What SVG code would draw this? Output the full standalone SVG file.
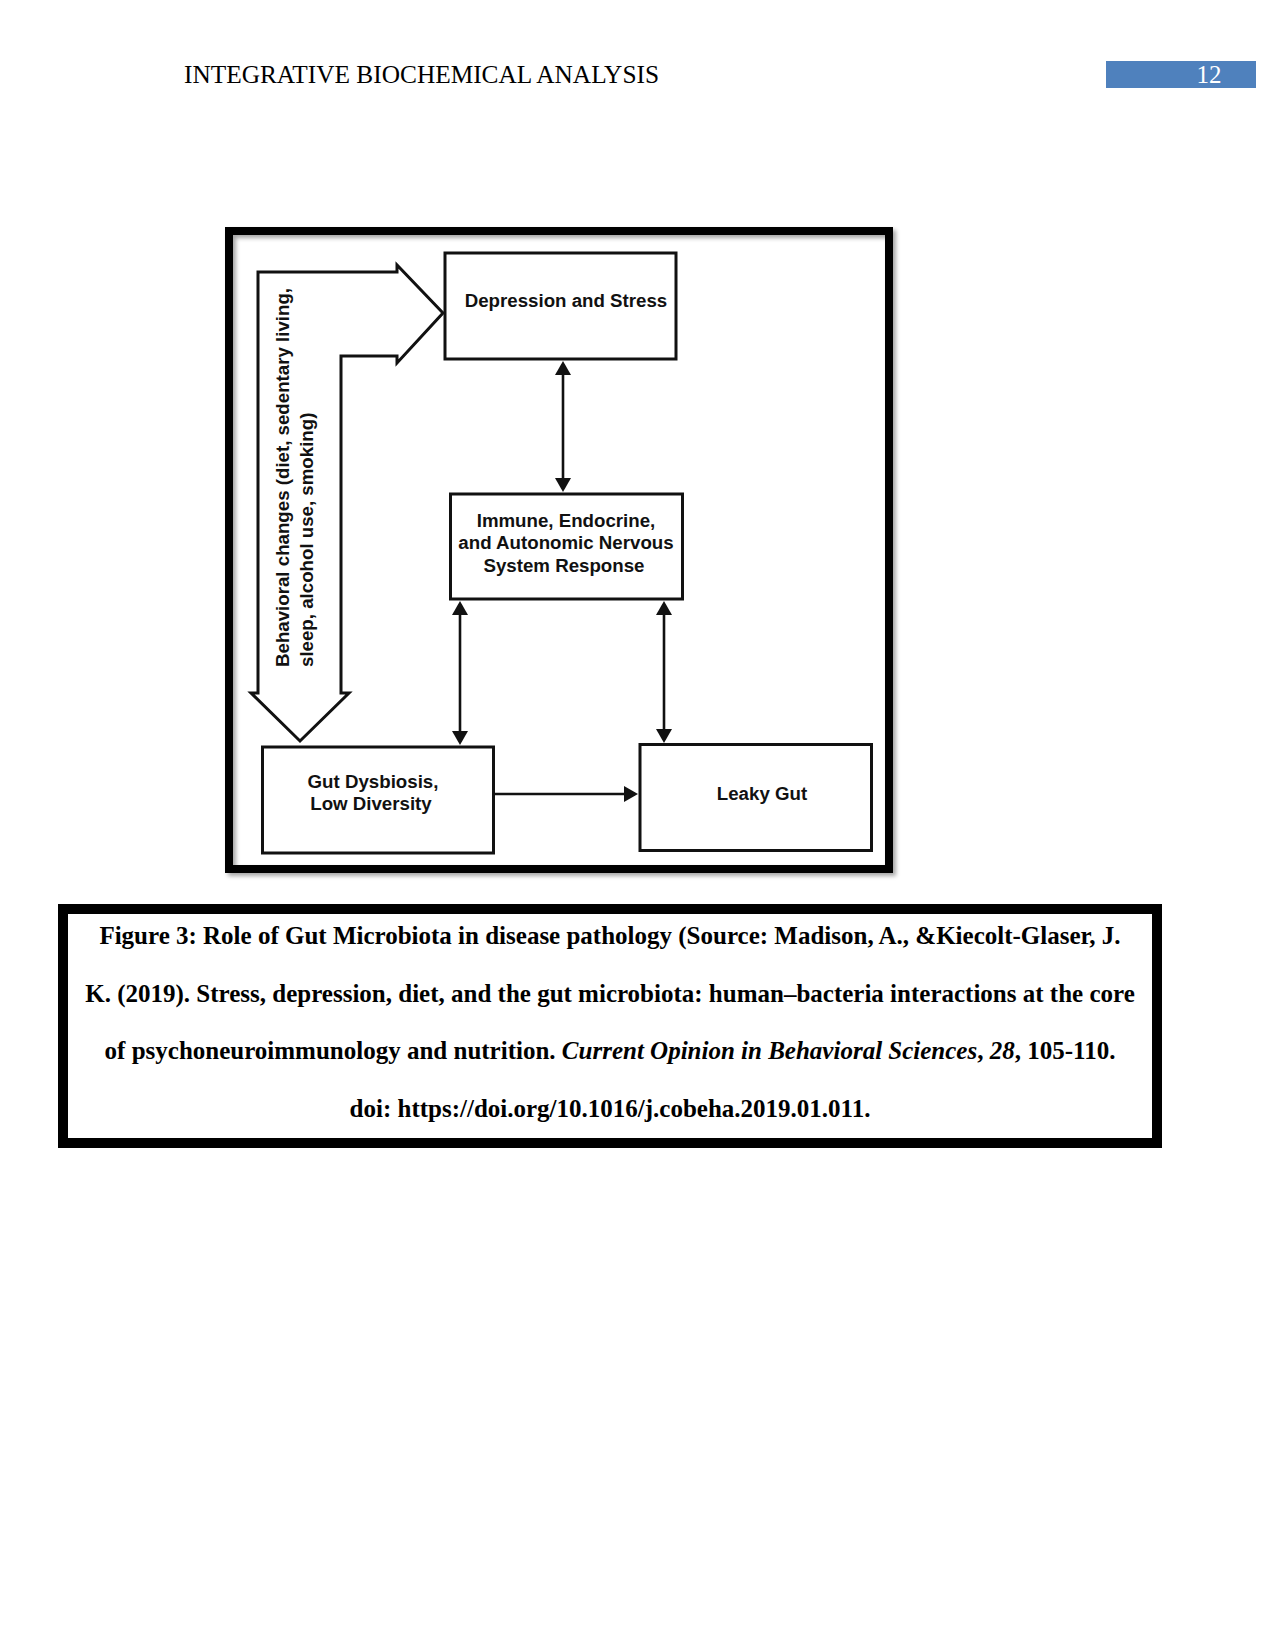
<svg xmlns="http://www.w3.org/2000/svg" width="1275" height="1651" viewBox="0 0 1275 1651">
  <style>
    .hdr { font-family: "Liberation Serif", "Times New Roman", serif; font-size: 25px; }
    .box { fill: #ffffff; stroke: #111111; stroke-width: 3; }
    .lbl { font-family: "Liberation Sans", Arial, sans-serif; font-weight: bold; font-size: 18.7px; fill: #111111; }
    .conn { stroke: #111111; stroke-width: 2.6; fill: none; }
    .cap { font-family: "Liberation Serif", "Times New Roman", serif; font-weight: bold; font-size: 25px; fill: #000000; text-anchor: middle; }
    .it { font-style: italic; }
  </style>
  <defs>
    <marker id="ah" markerUnits="userSpaceOnUse" markerWidth="16" markerHeight="16" viewBox="0 0 14 16" refX="11" refY="8" orient="auto-start-reverse">
      <path d="M0,0 L14,8 L0,16 Z" fill="#111111"/>
    </marker>
    <filter id="shadow" x="-5%" y="-5%" width="115%" height="115%">
      <feDropShadow dx="3" dy="3" stdDeviation="2" flood-color="#000000" flood-opacity="0.35"/>
    </filter>
  </defs>
  <rect width="1275" height="1651" fill="#ffffff"/>

  <g id="header">
    <text class="hdr" x="184" y="83" fill="#000000" textLength="475" lengthAdjust="spacingAndGlyphs">INTEGRATIVE BIOCHEMICAL ANALYSIS</text>
    <rect x="1106" y="61" width="150" height="27" fill="#4F81BD"/>
    <text class="hdr" x="1209" y="83" fill="#ffffff" text-anchor="middle">12</text>
  </g>

  <g id="figure-frame">
    <rect x="229" y="231" width="660" height="638" fill="none" stroke="#000000" stroke-width="8" filter="url(#shadow)"/>
  </g>

  <g id="behavioral-arrow">
    <path d="M258,693 L258,272 L397,272 L397,265 L443,313 L397,363 L397,356 L341,356 L341,693 L349,693 L300,741 L251,693 Z" fill="#ffffff" stroke="#111111" stroke-width="3" stroke-linejoin="miter"/>
    <text class="lbl" transform="translate(289,667) rotate(-90)">Behavioral changes (diet, sedentary living,</text>
    <text class="lbl" transform="translate(313,667) rotate(-90)">sleep, alcohol use, smoking)</text>
  </g>

  <g id="node-depression">
    <rect class="box" x="445" y="253" width="231" height="106"/>
    <text class="lbl" x="566" y="307" text-anchor="middle">Depression and Stress</text>
  </g>

  <g id="node-immune">
    <rect class="box" x="450.5" y="494" width="232" height="105"/>
    <text class="lbl" x="566" y="527" text-anchor="middle">Immune, Endocrine,</text>
    <text class="lbl" x="566" y="549" text-anchor="middle">and Autonomic Nervous</text>
    <text class="lbl" x="564" y="572" text-anchor="middle">System Response</text>
  </g>

  <g id="node-gut-dysbiosis">
    <rect class="box" x="262.5" y="747" width="231" height="106"/>
    <text class="lbl" x="373" y="788" text-anchor="middle">Gut Dysbiosis,</text>
    <text class="lbl" x="371" y="810" text-anchor="middle">Low Diversity</text>
  </g>

  <g id="node-leaky-gut">
    <rect class="box" x="640" y="744.5" width="231.5" height="106"/>
    <text class="lbl" x="762" y="800" text-anchor="middle">Leaky Gut</text>
  </g>

  <g id="connectors">
    <line class="conn" x1="563" y1="364" x2="563" y2="489" marker-start="url(#ah)" marker-end="url(#ah)"/>
    <line class="conn" x1="460" y1="604" x2="460" y2="742" marker-start="url(#ah)" marker-end="url(#ah)"/>
    <line class="conn" x1="664" y1="604" x2="664" y2="740" marker-start="url(#ah)" marker-end="url(#ah)"/>
    <line class="conn" x1="495" y1="794" x2="635" y2="794" marker-end="url(#ah)"/>
  </g>

  <g id="caption">
    <rect x="63" y="909" width="1094" height="234" fill="#ffffff" stroke="#000000" stroke-width="10"/>
    <text class="cap" x="610" y="944">Figure 3: Role of Gut Microbiota in disease pathology (Source: Madison, A., &amp;Kiecolt-Glaser, J.</text>
    <text class="cap" x="610" y="1002">K. (2019). Stress, depression, diet, and the gut microbiota: human–bacteria interactions at the core</text>
    <text class="cap" x="610" y="1059">of psychoneuroimmunology and nutrition. <tspan class="it">Current Opinion in Behavioral Sciences</tspan>, <tspan class="it">28</tspan>, 105-110.</text>
    <text class="cap" x="610" y="1117">doi: https://doi.org/10.1016/j.cobeha.2019.01.011.</text>
  </g>
</svg>
